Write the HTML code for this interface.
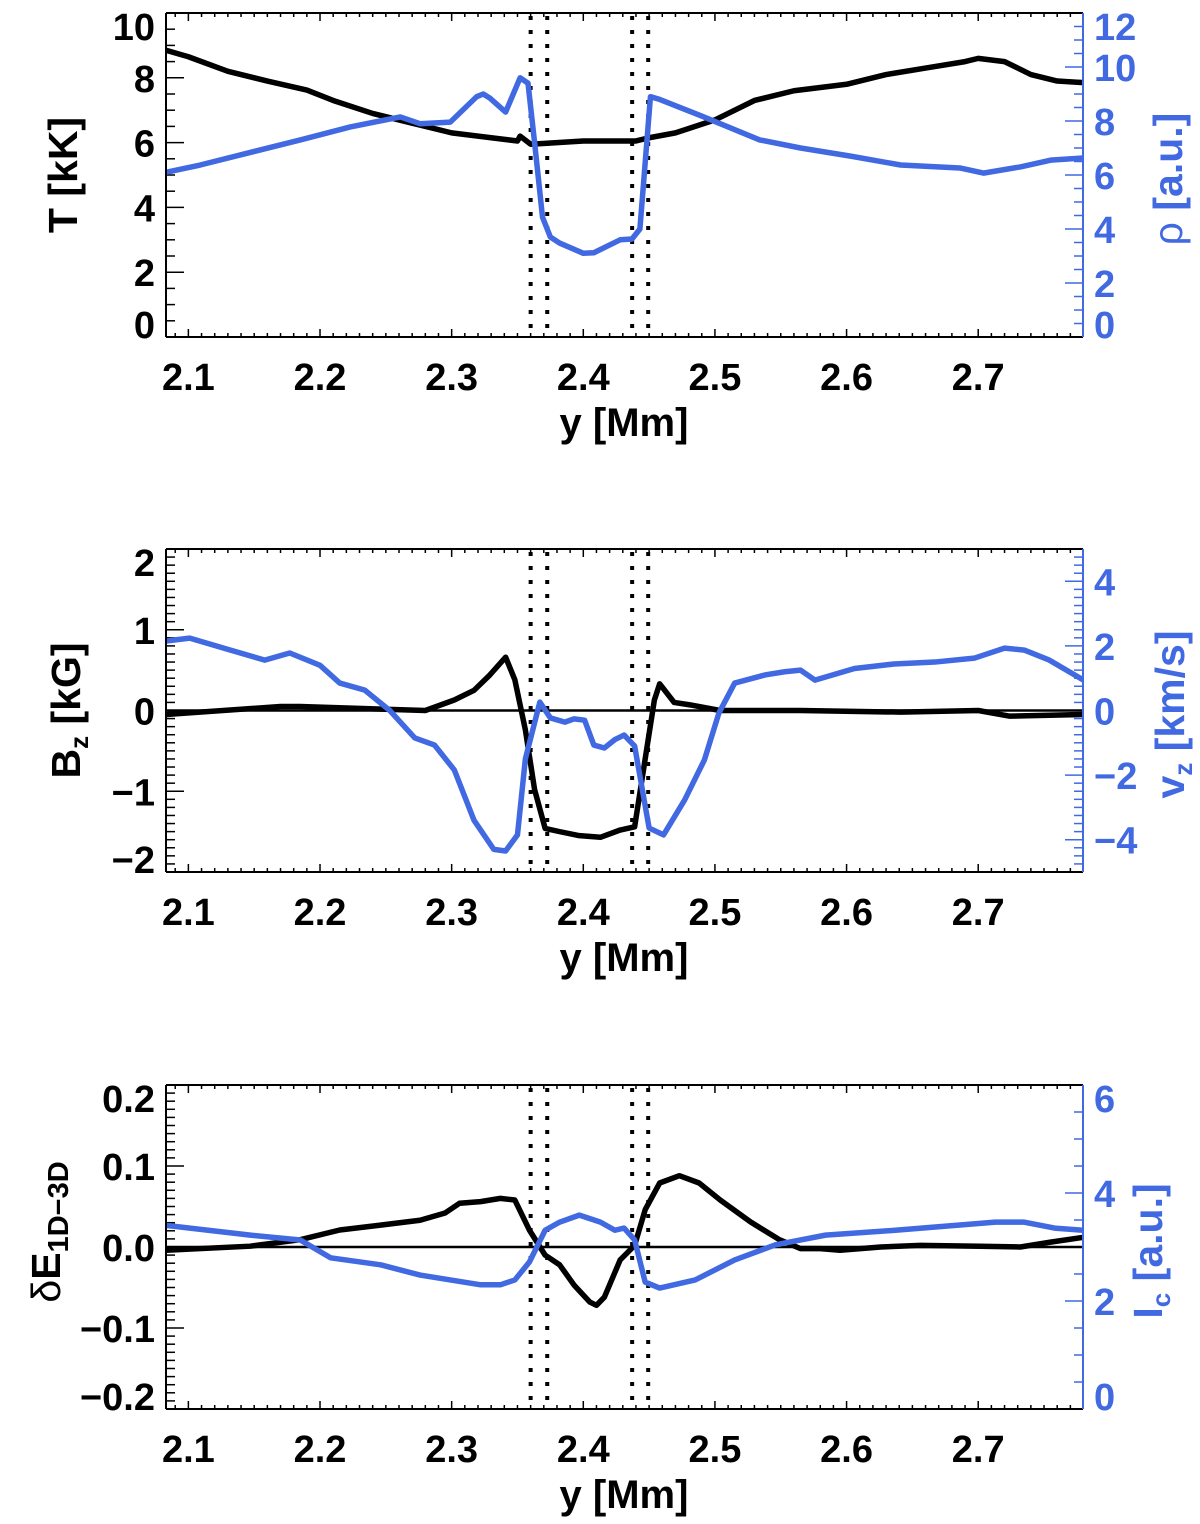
<!DOCTYPE html>
<html><head><meta charset="utf-8"><style>
html,body{margin:0;padding:0;background:#fff;}
svg{display:block;font-family:"Liberation Sans",Arial,sans-serif;font-weight:bold;}
</style></head><body>
<svg id="chart" width="1200" height="1524" viewBox="0 0 1200 1524" xmlns="http://www.w3.org/2000/svg"></svg>
<script>
// ---- data ----
const tempX = [2.083,2.10,2.13,2.16,2.19,2.21,2.24,2.27,2.30,2.33,2.35,2.352,2.36,2.38,2.40,2.43,2.44,2.45,2.47,2.50,2.53,2.56,2.60,2.63,2.66,2.69,2.70,2.72,2.74,2.76,2.78];
const tempV = [8.85,8.65,8.2,7.9,7.62,7.3,6.9,6.6,6.3,6.15,6.05,6.2,5.95,6.0,6.05,6.05,6.05,6.15,6.3,6.7,7.3,7.6,7.8,8.1,8.3,8.5,8.6,8.5,8.1,7.9,7.85];
const rhoX = [2.083,2.109,2.185,2.223,2.261,2.276,2.299,2.319,2.324,2.329,2.341,2.352,2.358,2.363,2.369,2.375,2.382,2.400,2.408,2.428,2.437,2.443,2.451,2.458,2.489,2.534,2.565,2.603,2.641,2.686,2.704,2.732,2.755,2.780];
const rhoV = [6.1,6.37,7.3,7.78,8.15,7.9,7.96,8.9,9.0,8.85,8.33,9.6,9.4,7.2,4.44,3.7,3.48,3.1,3.12,3.6,3.63,4.0,8.9,8.8,8.2,7.3,7.0,6.7,6.37,6.26,6.07,6.3,6.55,6.63];
const bzX = [2.083,2.17,2.185,2.28,2.302,2.317,2.329,2.341,2.348,2.356,2.363,2.371,2.382,2.397,2.413,2.428,2.439,2.447,2.454,2.458,2.469,2.481,2.504,2.565,2.641,2.700,2.724,2.780];
const bzV = [-0.05,0.05,0.05,0.0,0.13,0.25,0.44,0.66,0.38,-0.24,-0.98,-1.46,-1.5,-1.55,-1.57,-1.48,-1.44,-0.6,0.13,0.33,0.1,0.07,0.0,0.0,-0.02,0.0,-0.07,-0.05];
const vzX = [2.083,2.101,2.132,2.158,2.177,2.200,2.215,2.234,2.253,2.272,2.287,2.302,2.317,2.332,2.341,2.350,2.356,2.367,2.375,2.386,2.393,2.401,2.408,2.416,2.424,2.431,2.439,2.450,2.461,2.477,2.492,2.503,2.515,2.538,2.553,2.565,2.576,2.606,2.636,2.667,2.697,2.720,2.735,2.754,2.780];
const vzV = [2.15,2.24,1.87,1.56,1.78,1.4,0.85,0.63,0.0,-0.85,-1.07,-1.84,-3.4,-4.3,-4.35,-3.85,-1.5,0.26,-0.23,-0.36,-0.26,-0.3,-1.07,-1.16,-0.9,-0.76,-1.1,-3.64,-3.85,-2.77,-1.53,-0.08,0.85,1.1,1.2,1.25,0.94,1.3,1.44,1.5,1.62,1.93,1.87,1.56,0.94];
const deX = [2.083,2.147,2.185,2.215,2.246,2.276,2.295,2.306,2.322,2.337,2.348,2.359,2.371,2.382,2.393,2.405,2.410,2.416,2.428,2.439,2.447,2.458,2.473,2.488,2.504,2.527,2.549,2.565,2.580,2.595,2.626,2.656,2.701,2.732,2.755,2.780];
const deV = [-0.004,0.001,0.009,0.021,0.027,0.033,0.042,0.054,0.056,0.06,0.058,0.021,-0.01,-0.022,-0.047,-0.068,-0.072,-0.062,-0.016,0.002,0.046,0.079,0.088,0.079,0.058,0.031,0.009,-0.002,-0.002,-0.004,0.0,0.002,0.001,0.0,0.006,0.012];
const icX = [2.083,2.147,2.185,2.208,2.246,2.276,2.322,2.337,2.348,2.359,2.371,2.382,2.397,2.413,2.424,2.431,2.439,2.447,2.458,2.485,2.515,2.546,2.584,2.637,2.713,2.735,2.758,2.780];
const icV = [3.4,3.22,3.13,2.8,2.67,2.48,2.3,2.3,2.39,2.72,3.31,3.46,3.59,3.46,3.31,3.35,3.13,2.35,2.24,2.39,2.76,3.04,3.22,3.31,3.46,3.46,3.35,3.31];
const boundaryX = [2.360,2.3726,2.4371,2.4493];
const xTicks = [2.1,2.2,2.3,2.4,2.5,2.6,2.7];
const xTickLabels = ["2.1","2.2","2.3","2.4","2.5","2.6","2.7"];

// ---- layout ----
const NS="http://www.w3.org/2000/svg";
const svg=document.getElementById('chart');
const X0=166,X1=1083,XMIN=2.083,XMAX=2.7796;
const BLUE="#4169E1";
function xs(v){return X0+(v-XMIN)/(XMAX-XMIN)*(X1-X0);}
function mk(tag,attrs,parent){const e=document.createElementNS(NS,tag);for(const k in attrs)e.setAttribute(k,attrs[k]);(parent||svg).appendChild(e);return e;}
function fmt(v,d){let s=v.toFixed(d);if(v<0)s="\u2212"+s.slice(1);return s;}

function panel(cfg){
  const g=mk('g',{});
  
  
  const T=cfg.top,B=cfg.bot;
  const yl=v=>B-(v-cfg.lmin)/(cfg.lmax-cfg.lmin)*(B-T);
  const yr=v=>B-(v-cfg.rmin)/(cfg.rmax-cfg.rmin)*(B-T);
  for(let i=209;i<=277;i++){const v=i/100;const x=xs(v);if(x<X0||x>X1)continue;
    const maj=(i%10===0);const L=maj?8:4;
    const t1=mk('line',{x1:x,x2:x,y1:B,y2:B-L,stroke:'#000','stroke-width':1.5},g);
    
    const t2=mk('line',{x1:x,x2:x,y1:T,y2:T+L,stroke:'#000','stroke-width':1.5},g);
    
  }
  const nl=Math.round((cfg.lmax-cfg.lmin)/cfg.lminor);
  for(let i=0;i<=nl;i++){const v=cfg.lmin+i*cfg.lminor;const y=yl(v);
    const maj=Math.abs(v/cfg.lmajor-Math.round(v/cfg.lmajor))<1e-6;
    const t=mk('line',{x1:X0,x2:X0+(maj?18:9),y1:y,y2:y,stroke:'#000','stroke-width':1.5},g);
    
    if(maj){let cy=Math.min(Math.max(y,T+13),B-13);
      const tx=mk('text',{x:155,y:cy+14,'text-anchor':'end','font-size':38,fill:'#000'},g);
      tx.textContent=fmt(v,cfg.ldec);
      }
  }
  const nr=Math.round((cfg.rmax-cfg.rmin)/cfg.rminor);
  for(let i=0;i<=nr;i++){const v=cfg.rmin+i*cfg.rminor;const y=yr(v);
    const maj=Math.abs(v/cfg.rmajor-Math.round(v/cfg.rmajor))<1e-6;
    const t=mk('line',{x1:X1,x2:X1-(maj?18:9),y1:y,y2:y,stroke:BLUE,'stroke-width':1.5},g);
    
    if(maj){let cy=Math.min(Math.max(y,T+13),B-13);
      const tx=mk('text',{x:1094,y:cy+14,'text-anchor':'start','font-size':38,fill:BLUE},g);
      tx.textContent=fmt(v,0);
      }
  }
  xTicks.forEach((v,i)=>{const tx=mk('text',{x:xs(v),y:B+53,'text-anchor':'middle','font-size':38,fill:'#000'},g);
    tx.textContent=xTickLabels[i];});
  const xt=mk('text',{x:624,y:B+99,'text-anchor':'middle','font-size':40,fill:'#000'},g);
  xt.textContent='y [Mm]';
  if(cfg.zero){const z=mk('line',{x1:X0,x2:X1,y1:yl(0),y2:yl(0),stroke:'#000','stroke-width':2.5},g);
    }
  boundaryX.forEach(v=>{const l=mk('line',{x1:xs(v),x2:xs(v),y1:T+3,y2:B,stroke:'#000','stroke-width':4,'stroke-dasharray':'4 10'},g);
    });
  const cp=mk('clipPath',{id:'c'+cfg.name},g);mk('rect',{x:X0,y:T,width:X1-X0,height:B-T},cp);
  const blk=mk('polyline',{points:cfg.lx.map((x,i)=>xs(x)+','+yl(cfg.lv[i])).join(' '),fill:'none',stroke:'#000','stroke-width':5.5,'stroke-linejoin':'round','clip-path':'url(#c'+cfg.name+')'},g);
  
  const blu=mk('polyline',{points:cfg.rx.map((x,i)=>xs(x)+','+yr(cfg.rv[i])).join(' '),fill:'none',stroke:BLUE,'stroke-width':5.5,'stroke-linejoin':'round','clip-path':'url(#c'+cfg.name+')'},g);
  
  mk('line',{x1:X0,x2:X1,y1:T,y2:T,stroke:'#000','stroke-width':2},g);
  mk('line',{x1:X0,x2:X1,y1:B,y2:B,stroke:'#000','stroke-width':2},g);
  mk('line',{x1:X0,x2:X0,y1:T,y2:B,stroke:'#000','stroke-width':2},g);
  mk('line',{x1:X1,x2:X1,y1:T,y2:B,stroke:BLUE,'stroke-width':2},g);
  const cy=(T+B)/2;
  const lt=mk('text',{transform:`translate(${cfg.ltx},${cfg.lty||cy}) rotate(-90)`,'text-anchor':'middle','font-size':41,fill:'#000'},g);
  lt.innerHTML=cfg.ltitle;
  const rt=mk('text',{transform:`translate(${cfg.rtx},${cy+4}) rotate(-90)`,'text-anchor':'middle','font-size':41,fill:BLUE},g);
  rt.innerHTML=cfg.rtitle;
}

panel({name:'temperature-density-panel',top:13,bot:337,lmin:0,lmax:10,lmajor:2,lminor:0.5,ldec:0,rmin:0,rmax:12,rmajor:2,rminor:0.5,
  lx:tempX,lv:tempV,rx:rhoX,rv:rhoV,lname:'temperature-line',rname:'density-line',
  ltx:77,ltitle:'T [kK]',rtx:1182,rtitle:'<tspan font-weight="normal">ρ</tspan> [a.u.]'});
panel({name:'bz-vz-panel',top:549,bot:872,lmin:-2,lmax:2,lmajor:1,lminor:0.1,ldec:0,rmin:-5,rmax:5,rmajor:2,rminor:0.25,zero:true,
  lx:bzX,lv:bzV,rx:vzX,rv:vzV,lname:'bz-line',rname:'vz-line',
  ltx:80,ltitle:'B<tspan font-size="26" dy="8">z</tspan><tspan dy="-8"> [kG]</tspan>',rtx:1184,rtitle:'v<tspan font-size="26" dy="8">z</tspan><tspan dy="-8"> [km/s]</tspan>'});
panel({name:'energy-intensity-panel',top:1085,bot:1409,lmin:-0.2,lmax:0.2,lmajor:0.1,lminor:0.01,ldec:1,rmin:0,rmax:6,rmajor:2,rminor:0.5,zero:true,
  lx:deX,lv:deV,rx:icX,rv:icV,lname:'delta-e-line',rname:'intensity-line',
  ltx:60,lty:1232,ltitle:'<tspan font-weight="normal">δ</tspan>E<tspan font-size="29" dy="8">1D−3D</tspan>',rtx:1162,rtitle:'I<tspan font-size="26" dy="8">c</tspan><tspan dy="-8"> [a.u.]</tspan>'});
</script>
</body></html>
